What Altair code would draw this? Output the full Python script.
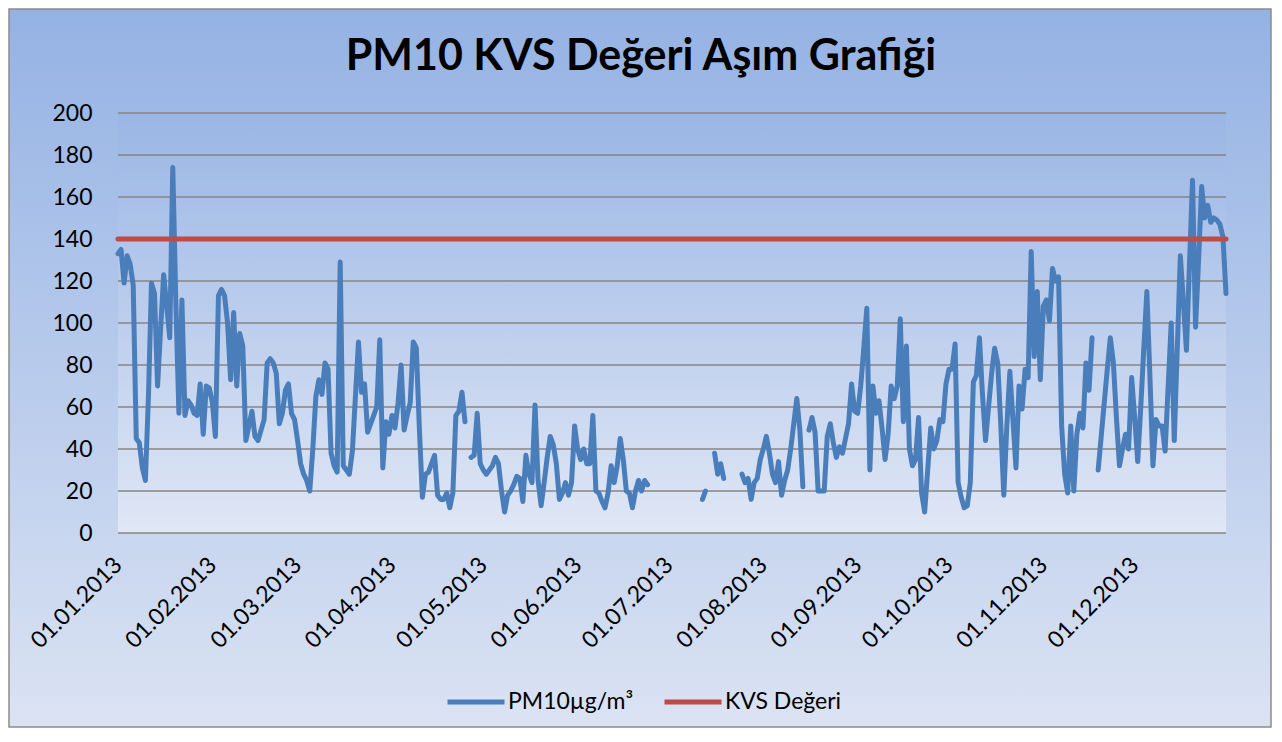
import json
import altair as alt
import pandas as pd

# ---------------- data ----------------
month_start_days = [0, 31, 59, 90, 120, 151, 181, 212, 243, 273, 304, 334]
month_labels = ["01.01.2013", "01.02.2013", "01.03.2013", "01.04.2013",
                "01.05.2013", "01.06.2013", "01.07.2013", "01.08.2013",
                "01.09.2013", "01.10.2013", "01.11.2013", "01.12.2013"]

# daily PM10 values for 2013 (None = no measurement)
pm10 = [
    133, 135, 119, 132, 128, 118, 45, 43, 31, 25,
    65, 119, 114, 70, 97, 123, 108, 93, 174, 110,
    57, 111, 56, 63, 61, 57, 56, 71, 47, 70,
    69, 62, 46, 113, 116, 113, 100, 73, 105, 70,
    95, 89, 44, 51, 58, 46, 44, 49, 54, 81,
    83, 81, 76, 52, 57, 68, 71, 57, 54, 44,
    33, 28, 25, 20, 40, 65, 73, 66, 81, 78,
    38, 32, 29, 129, 32, 30, 28, 39, 65, 91,
    67, 71, 48, 52, 56, 60, 92, 31, 53, 47,
    56, 50, 62, 80, 49, 56, 62, 91, 88, 50,
    17, 28, 29, 33, 37, 18, 16, 16, 19, 12,
    19, 56, 58, 67, 53, None, 36, 37, 57, 33,
    30, 28, 30, 32, 36, 33, 20, 10, 18, 20,
    23, 27, 26, 15, 37, 28, 24, 61, 25, 13,
    24, 36, 46, 42, 33, 16, 19, 24, 18, 24,
    51, 40, 35, 40, 33, 33, 56, 20, 19, 15,
    12, 19, 32, 24, 32, 45, 35, 20, 19, 12,
    20, 25, 20, 25, 23, None, None, None, None, None,
    None, None, None, None, None, None, None, None, None, None,
    None, None, 16, 20, None, None, 38, 28, 33, 26,
    None, None, None, None, None, 28, 24, 26, 16, 24,
    26, 35, 40, 46, 38, 28, 24, 34, 18, 25,
    30, 40, 52, 64, 49, 22, None, 49, 55, 48,
    20, 20, 20, 46, 52, 43, 36, 41, 38, 45,
    52, 71, 58, 57, 70, 88, 107, 30, 70, 57,
    63, 50, 35, 47, 70, 64, 70, 102, 53, 89,
    40, 32, 35, 55, 19, 10, 30, 50, 40, 44,
    54, 53, 71, 78, 78, 90, 24, 17, 12, 13,
    24, 72, 75, 93, 66, 44, 60, 76, 88, 81,
    52, 18, 51, 77, 54, 31, 70, 59, 78, 74,
    134, 84, 115, 73, 108, 111, 101, 126, 120, 122,
    51, 28, 19, 51, 20, 47, 57, 50, 81, 68,
    93, None, 30, 46, 62, 78, 93, 81, 55, 32,
    40, 47, 40, 74, 55, 34, 60, 88, 115, 75,
    32, 54, 51, 51, 39, 70, 100, 44, 88, 132,
    110, 87, 128, 168, 98, 130, 165, 150, 156, 148,
    150, 149, 147, 141, 114,
]
kvs_limit = 140
y_ticks = [0, 20, 40, 60, 80, 100, 120, 140, 160, 180, 200]
series_names = ["PM10µg/m³", "KVS Değeri"]
series_colors = ["#4a7ebb", "#be4b48"]
title_text = "PM10 KVS Değeri Aşım Grafiği"

# ---------------- tables ----------------
last_day = len(pm10) - 1
rows = []
seg = 0
prev_ok = False
for d, v in enumerate(pm10):
    if v is None:
        prev_ok = False
        continue
    if not prev_ok:
        seg += 1
    prev_ok = True
    rows.append({"day": d, "value": v, "series": series_names[0], "seg": seg})
pm_df = pd.DataFrame(rows)
kvs_df = pd.DataFrame({"day": [0, last_day], "value": [kvs_limit, kvs_limit],
                       "series": [series_names[1]] * 2, "seg": [0, 0]})
grid_df = pd.DataFrame({"tick": y_ticks})
frame_df = pd.DataFrame({"x0": [0], "x1": [last_day], "y0": [y_ticks[0]], "y1": [y_ticks[-1]]})
title_df = pd.DataFrame({"label": [title_text]})

# ---------------- layout ----------------
W, H = 1108, 420
PAD = {"left": 110, "top": 105, "right": 46, "bottom": 195}
FONT = "Lato"

x_scale = alt.Scale(domain=[0, last_day], nice=False, zero=False)
y_scale = alt.Scale(domain=[y_ticks[0], y_ticks[-1]], nice=False, zero=False)

label_expr = "%s[indexof(%s, datum.value)]" % (json.dumps(month_labels), json.dumps(month_start_days))
x_axis = alt.Axis(values=month_start_days, labelExpr=label_expr, labelAngle=-45,
                  labelAlign="right", labelBaseline="middle", labelPadding=28,
                  title=None, grid=False, domain=False, ticks=False, tickSize=0,
                  labelFont=FONT, labelFontSize=23, labelColor="#000000",
                  labelOverlap=False, labelBound=False, zindex=1)
y_axis = alt.Axis(values=y_ticks, title=None, grid=False, domain=False, ticks=False,
                  tickSize=0, labelPadding=26, labelFont=FONT, labelFontSize=23,
                  labelColor="#000000", zindex=1)
legend = alt.Legend(title=None, orient="none", legendX=327, legendY=558,
                    direction="horizontal", symbolType="stroke", symbolSize=3249,
                    symbolStrokeWidth=5, labelFont=FONT, labelFontSize=23,
                    labelColor="#000000", columnPadding=20, labelOffset=1,
                    labelLimit=400, zindex=1)
color_scale = alt.Scale(domain=series_names, range=series_colors)

outer_grad = {"gradient": "linear", "x1": 0, "y1": 0, "x2": 0, "y2": 1,
              "stops": [{"offset": 0, "color": "#94b2e4"},
                        {"offset": 1, "color": "#dbe3f3"}]}
plot_grad = {"gradient": "linear", "x1": 0, "y1": 0, "x2": 0, "y2": 1,
             "stops": [{"offset": 0, "color": "#9ab6e5"},
                       {"offset": 1, "color": "#e0e7f5"}]}

outer = alt.Chart(pd.DataFrame({"a": [0]})).mark_rect(
    fill=outer_grad, stroke="#8c8c8c", strokeWidth=1.5
).encode(
    x=alt.value(-PAD["left"] + 1), x2=alt.value(W + PAD["right"] - 1),
    y=alt.value(-PAD["top"] + 1), y2=alt.value(H + PAD["bottom"] - 1),
)

title_mark = alt.Chart(title_df).mark_text(
    font=FONT, fontSize=43, fontWeight="bold", color="#000000",
    align="center", baseline="alphabetic"
).encode(text="label:N", x=alt.value(W / 2 - 31), y=alt.value(-43))

plot_bg = alt.Chart(frame_df).mark_rect(fill=plot_grad).encode(
    x=alt.X("x0:Q", scale=x_scale, axis=x_axis), x2="x1:Q",
    y=alt.Y("y0:Q", scale=y_scale, axis=y_axis), y2="y1:Q",
)

grid = alt.Chart(grid_df).mark_rule(color="#868686", strokeWidth=1.4).encode(
    y=alt.Y("tick:Q", scale=y_scale, axis=y_axis),
    x=alt.X(datum=0, scale=x_scale, axis=x_axis),
    x2=alt.X2(datum=last_day),
)

line_kw = dict(strokeWidth=5, strokeJoin="round", strokeCap="round")

pm_line = alt.Chart(pm_df).mark_line(**line_kw).encode(
    x=alt.X("day:Q", scale=x_scale, axis=x_axis),
    y=alt.Y("value:Q", scale=y_scale, axis=y_axis),
    color=alt.Color("series:N", scale=color_scale, legend=legend),
    detail="seg:N",
)

kvs_line = alt.Chart(kvs_df).mark_line(**line_kw).encode(
    x=alt.X("day:Q", scale=x_scale, axis=x_axis),
    y=alt.Y("value:Q", scale=y_scale, axis=y_axis),
    color=alt.Color("series:N", scale=color_scale, legend=legend),
)

chart = alt.layer(outer, title_mark, plot_bg, grid, pm_line, kvs_line).properties(
    width=W, height=H,
    padding=PAD,
    autosize=alt.AutoSizeParams(type="none"),
).configure_view(stroke=None).configure(background="#ffffff")

chart.save("out.html", embed_options={"renderer": "svg", "actions": False})
